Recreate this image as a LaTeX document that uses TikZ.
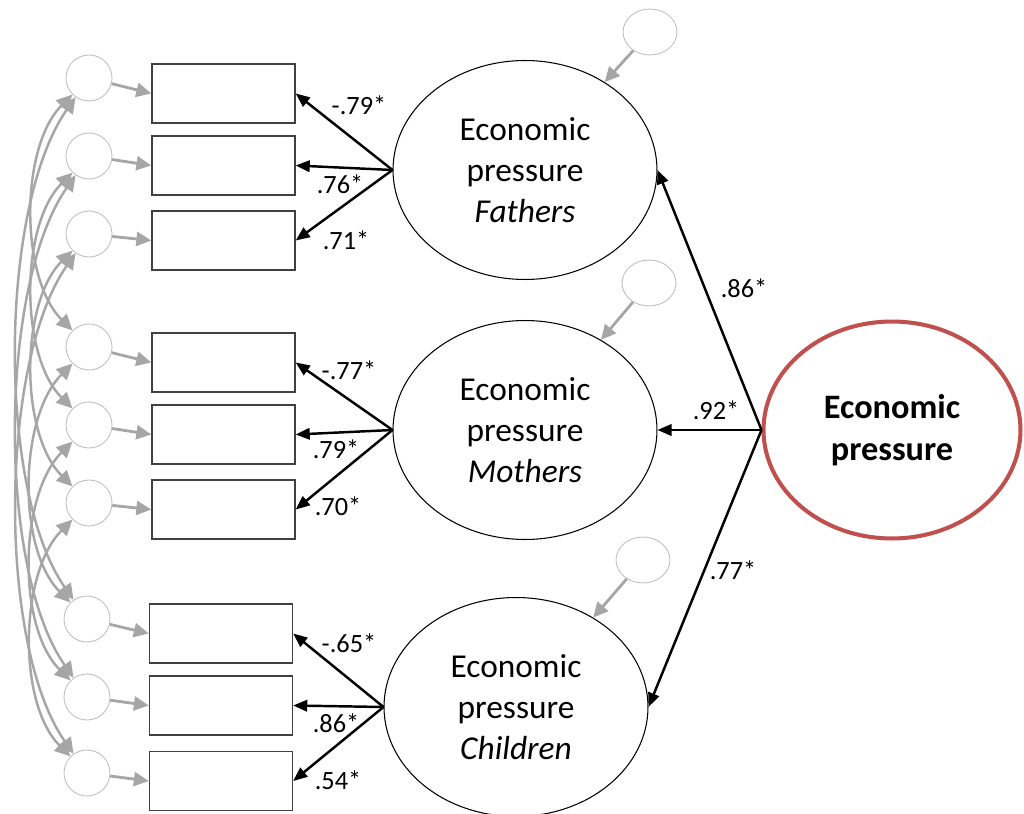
\documentclass[tikz,border=0pt]{standalone}
\usepackage{fontspec}
\setmainfont{Carlito}
\usetikzlibrary{shapes.geometric,arrows.meta}
\definecolor{covgray}{HTML}{A6A6A6}
\definecolor{circgray}{HTML}{BFBFBF}
\definecolor{epred}{HTML}{C0504D}
\begin{document}
\begin{tikzpicture}[x=0.02cm,y=-0.02cm,
		err/.style={circle,draw=circgray,line width=0.5pt,minimum size=0.92cm,inner sep=0pt},
		res/.style={ellipse,draw=circgray,line width=0.5pt,minimum width=1.08cm,minimum height=0.92cm,inner sep=0pt},
		ind/.style={rectangle,draw=black!75,line width=0.8pt,minimum width=2.86cm,minimum height=1.18cm,inner sep=0pt},
		lat/.style={ellipse,draw,line width=0.6pt,minimum width=5.28cm,minimum height=4.38cm,inner sep=0pt,align=center,font=\fontsize{19}{23.5}\selectfont},
		load/.style={line width=1.4pt,-{Triangle[length=8pt,width=6.5pt]}},
		gpath/.style={covgray,line width=1.6pt,-{Triangle[length=8.5pt,width=8pt]}},
		cov/.style={covgray,line width=1.4pt,{Triangle[length=9pt,width=8.5pt]}-{Triangle[length=9pt,width=8.5pt]}},
		lbl/.style={font=\fontsize{15}{17}\selectfont,inner sep=0pt}]
	\useasboundingbox (0,0) rectangle (1024,814);
	% error terms
	\node[err] (e1) at (89,78) {};
	\node[err] (e2) at (89,156) {};
	\node[err] (e3) at (89,234) {};
	\node[err] (e4) at (89,347) {};
	\node[err] (e5) at (89,425) {};
	\node[err] (e6) at (89,503) {};
	\node[err] (e7) at (87,619) {};
	\node[err] (e8) at (87,697) {};
	\node[err] (e9) at (87,773) {};
	% indicators
	\node[ind] (i1) at (223.5,93.5) {};
	\node[ind] (i2) at (223.5,165.5) {};
	\node[ind] (i3) at (223.5,240.5) {};
	\node[ind] (i4) at (223.5,362.5) {};
	\node[ind] (i5) at (223.5,434.5) {};
	\node[ind] (i6) at (223.5,509.5) {};
	\node[ind] (i7) at (221,633.5) {};
	\node[ind] (i8) at (221,705.5) {};
	\node[ind] (i9) at (221,781) {};
	% latent factors
	\node[lat] (fa) at (525,170) {Economic\\pressure\\\textit{Fathers}};
	\node[lat] (mo) at (525,430) {Economic\\pressure\\\textit{Mothers}};
	\node[lat] (ch) at (516,707) {Economic\\pressure\\\textit{Children}};
	\node[ellipse,draw=epred,line width=2.3pt,minimum width=5.14cm,minimum height=4.34cm,inner sep=0pt,align=center,
		font=\fontsize{19.5}{24}\selectfont\bfseries] (ep) at (892,430) {Economic\\pressure};
	% residuals
	\node[res] (d1) at (650,32) {};
	\node[res] (d2) at (649,283) {};
	\node[res] (d3) at (643,560) {};
	\draw[gpath] (d1) -- (fa);
	\draw[gpath] (d2) -- (mo);
	\draw[gpath] (d3) -- (ch);
	% error paths
	\draw[gpath] (e1) -- (i1.west);
	\draw[gpath] (e2) -- (i2.west);
	\draw[gpath] (e3) -- (i3.west);
	\draw[gpath] (e4) -- (i4.west);
	\draw[gpath] (e5) -- (i5.west);
	\draw[gpath] (e6) -- (i6.west);
	\draw[gpath] (e7) -- (i7.west);
	\draw[gpath] (e8) -- (i8.west);
	\draw[gpath] (e9) -- (i9.west);
	% covariances
	\draw[cov] (e1) to[out=225,in=135,looseness=0.81] (e4);
	\draw[cov] (e2) to[out=225,in=135,looseness=0.81] (e5);
	\draw[cov] (e3) to[out=225,in=135,looseness=0.81] (e6);
	\draw[cov] (e4) to[out=225,in=135,looseness=0.81] (e7);
	\draw[cov] (e5) to[out=225,in=135,looseness=0.81] (e8);
	\draw[cov] (e6) to[out=225,in=135,looseness=0.81] (e9);
	\draw[cov] (e1) to[out=235,in=125,looseness=0.68] (e7);
	\draw[cov] (e2) to[out=235,in=125,looseness=0.68] (e8);
	\draw[cov] (e3) to[out=235,in=125,looseness=0.68] (e9);
	% loadings
	\draw[load] (fa.west) -- (i1.east);
	\draw[load] (fa.west) -- (i2.east);
	\draw[load] (fa.west) -- (i3.east);
	\draw[load] (mo.west) -- (i4.east);
	\draw[load] (mo.west) -- (i5.east);
	\draw[load] (mo.west) -- (i6.east);
	\draw[load] (ch.west) -- (i7.east);
	\draw[load] (ch.west) -- (i8.east);
	\draw[load] (ch.west) -- (i9.east);
	\node[lbl] (l1) at (359,105) {-.79*};
	\node[lbl] (l2) at (340,184) {.76*};
	\node[lbl] (l3) at (346,240) {.71*};
	\node[lbl] (l4) at (349,370) {-.77*};
	\node[lbl] (l5) at (336,449) {.79*};
	\node[lbl] (l6) at (338,506) {.70*};
	\node[lbl] (l7) at (349,643) {-.65*};
	\node[lbl] (l8) at (336,723) {.86*};
	\node[lbl] (l9) at (338,780) {.54*};
	% second order
	\draw[load] (ep.west) -- (fa.east);
	\draw[load] (ep.west) -- (mo.east);
	\draw[load] (ep.west) -- (ch.east);
	\node[lbl] (s1) at (744,288) {.86*};
	\node[lbl] (s2) at (716,410) {.92*};
	\node[lbl] (s3) at (733,570) {.77*};
\end{tikzpicture}
\end{document}
